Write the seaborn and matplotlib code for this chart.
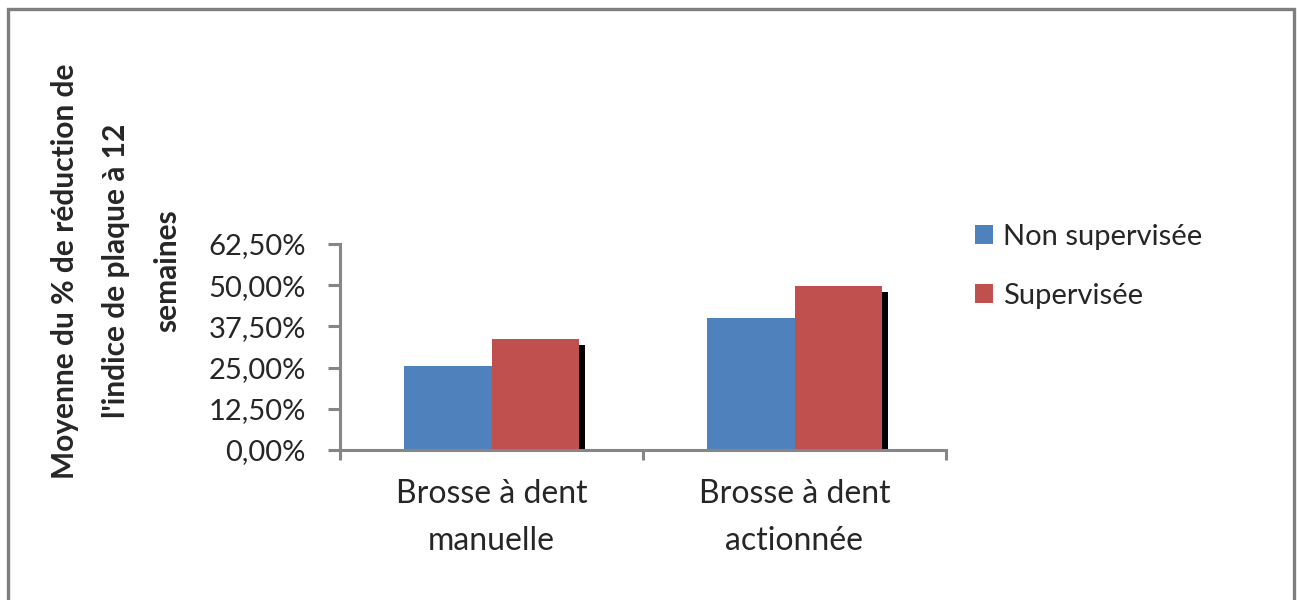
"""
Bar chart: mean % reduction of plaque index at 12 weeks,
manual vs powered toothbrush, supervised or not.
"""

import pandas as pd
import matplotlib
matplotlib.use("Agg")
import matplotlib.pyplot as plt
import matplotlib.patheffects as pe
from matplotlib.patches import Rectangle
from matplotlib.ticker import FixedLocator
import seaborn as sns

# data
categories = ["Brosse à dent\nmanuelle", "Brosse à dent\nactionnée"]
series = ["Non supervisée", "Supervisée"]
non_supervisee = [0.255, 0.400]
supervisee = [0.337, 0.498]
y_ticks = [0.0, 0.125, 0.25, 0.375, 0.5, 0.625]
y_tick_labels = ["0,00%", "12,50%", "25,00%", "37,50%", "50,00%", "62,50%"]
y_label = "Moyenne du % de réduction de\nl'indice de plaque à 12\nsemaines"

colors = ["#4F81BD", "#C0504D"]
axis_grey = "#868686"


def build_frame():
    rows = []
    for cat, a, b in zip(categories, non_supervisee, supervisee):
        rows.append({"cat": cat, "serie": series[0], "val": a})
        rows.append({"cat": cat, "serie": series[1], "val": b})
    return pd.DataFrame(rows)


def main():
    sns.set_style("white")
    plt.rcParams["font.family"] = ["Lato", "DejaVu Sans"]

    df = build_frame()

    fig = plt.figure(figsize=(13.01, 6.0), dpi=100)
    ax = fig.add_axes([340 / 1301, 1 - 450 / 600, 606 / 1301, 206 / 600])

    sns.barplot(data=df, x="cat", y="val", hue="serie", order=categories,
                hue_order=series, palette=colors, width=0.58, gap=0,
                saturation=1, edgecolor="none", linewidth=0, ax=ax)

    # black drop shadow on the red bars only
    for bar in ax.containers[1]:
        bar.set_path_effects([
            pe.SimplePatchShadow(offset=(4.3, -4.3), shadow_rgbFace="black", alpha=1),
            pe.Normal(),
        ])

    ax.set_xlim(-0.5, 1.5)
    ax.set_ylim(0, 0.625)
    ax.set_xlabel("")
    ax.set_ylabel("")

    ax.yaxis.set_major_locator(FixedLocator(y_ticks))
    ax.set_yticklabels(y_tick_labels)
    ax.xaxis.set_minor_locator(FixedLocator([-0.5, 0.5, 1.5]))

    for side in ["top", "right"]:
        ax.spines[side].set_visible(False)
    for side in ["left", "bottom"]:
        ax.spines[side].set_color(axis_grey)
        ax.spines[side].set_linewidth(2.2)

    ax.tick_params(axis="y", which="major", direction="out", length=8.5, width=2.2,
                   color=axis_grey, labelsize=21, pad=16, left=True)
    ax.tick_params(axis="x", which="major", length=0, labelsize=23, pad=21)
    ax.tick_params(axis="x", which="minor", direction="out", length=7.5, width=2.2,
                   color=axis_grey, bottom=True)
    for lab in ax.get_xticklabels():
        lab.set_linespacing(1.7)

    fig.text(116 / 1301, 1 - 271 / 600, y_label, rotation=90, ha="center", va="center",
             multialignment="center", fontsize=21.5, fontweight="bold", linespacing=2.0)

    handles, labels = ax.get_legend_handles_labels()
    ax.legend(handles, labels, loc="upper left", bbox_to_anchor=(975 / 1301, 1 - 224 / 600),
              bbox_transform=fig.transFigure, frameon=False, fontsize=21,
              handlelength=0.6, handleheight=0.6, handletextpad=0.35,
              labelspacing=1.12, borderaxespad=0, borderpad=0)

    # grey frame round the whole chart
    fig.patches.append(Rectangle((8 / 1301, -0.05), 1286 / 1301, 1 - 9 / 600 + 0.05,
                                 transform=fig.transFigure, fill=False,
                                 edgecolor="#7F7F7F", linewidth=2.4))

    fig.savefig("out.png", dpi=100)


if __name__ == "__main__":
    main()
